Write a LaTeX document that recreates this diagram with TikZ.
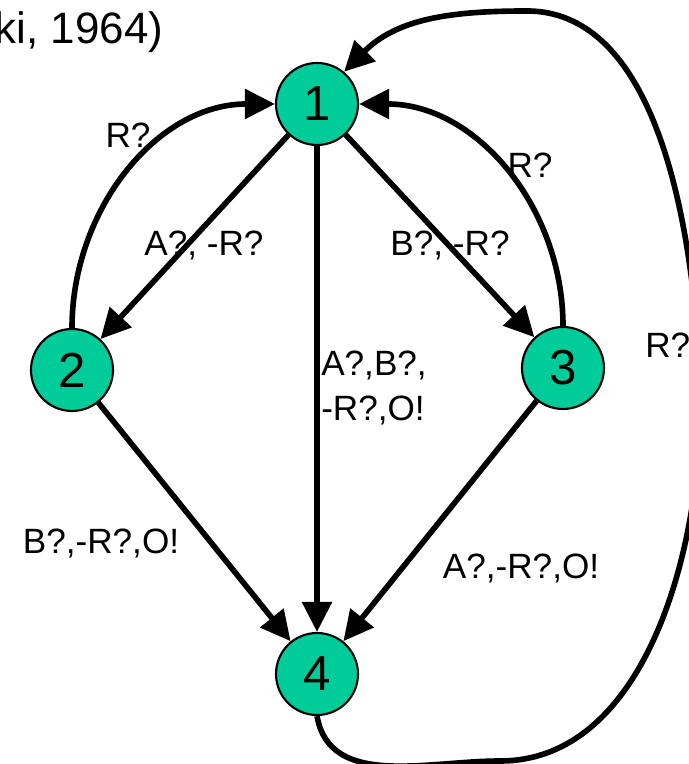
\documentclass[tikz,border=0pt]{standalone}
\usepackage{fontspec}
\setmainfont{Liberation Sans}
\usetikzlibrary{arrows.meta}

\definecolor{stategreen}{RGB}{0,204,153}

\tikzset{
  state/.style={circle, draw, line width=1.2pt, fill=stategreen,
    minimum size=1.64cm, inner sep=0pt, font=\fontsize{28}{32}\selectfont},
  trans/.style={-{Triangle[length=0.6cm,width=0.58cm]}, line width=3.2pt},
  lbl/.style={font=\fontsize{20}{26}\selectfont, inner sep=0pt},
}

\begin{document}
\begin{tikzpicture}
\useasboundingbox (0,0) rectangle (13.76,15.28);

\node[anchor=east, inner sep=0pt, font=\fontsize{25}{29}\selectfont] (cite) at (3.27,14.64) {ki, 1964)};

% states
\node[state] (s1) at (6.34,13.2) {1};
\node[state] (s2) at (1.44,7.88) {2};
\node[state] (s3) at (11.26,7.92) {3};
\node[state] (s4) at (6.34,1.8) {4};

% transitions
\draw[trans] (s1) -- (s2);
\draw[trans] (s1) -- (s3);
\draw[trans] (s1) -- (s4);
\draw[trans] (s2) -- (s4);
\draw[trans] (s3) -- (s4);
\draw[trans] (s2.north) to[out=90, in=180] (s1.west);
\draw[trans] (s3.north) to[out=90, in=0] (s1.east);
% reset loop, runs out past the right edge
\draw[trans] (s4.south) to[out=-80, in=180] (10.0,0.06)
  to[out=0, in=-88, looseness=0.9] (14.0,7.58)
  to[out=92, in=0, looseness=0.85] (10.54,15.06)
  to[out=180, in=45] (s1.50);

% labels
\node[lbl] (r21) at (2.56,12.58) {R?};
\node[lbl] (r31) at (10.6,11.98) {R?};
\node[lbl, anchor=west] (r41) at (12.9,8.38) {R?};
\node[lbl] (t12) at (4.08,10.38) {A?, -R?};
\node[lbl] (t13) at (9.0,10.38) {B?, -R?};
\node[lbl, align=left] (t14) at (7.48,7.52) {A?,B?,\\-R?,O!};
\node[lbl] (t24) at (2.02,4.42) {B?,-R?,O!};
\node[lbl] (t34) at (10.42,3.92) {A?,-R?,O!};
\end{tikzpicture}
\end{document}
